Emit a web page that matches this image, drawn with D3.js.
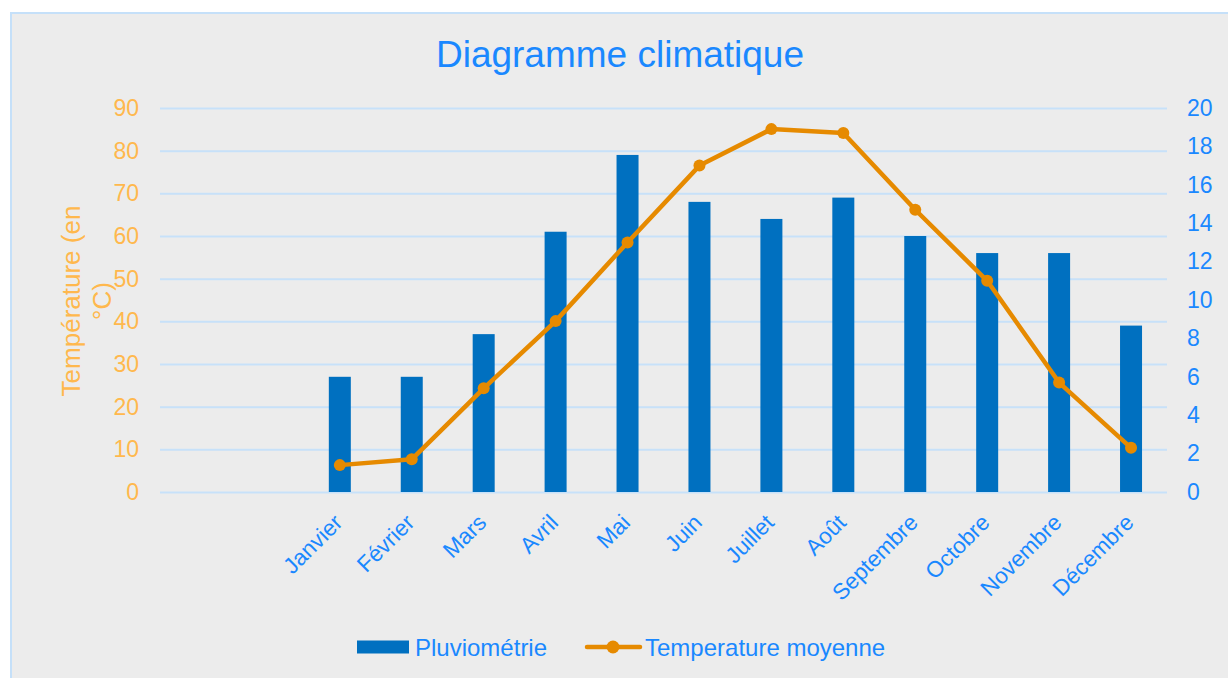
<!DOCTYPE html>
<html>
<head>
<meta charset="utf-8">
<script src="https://cdn.jsdelivr.net/npm/d3@7"></script>
<style>
  body { margin: 0; background: #fff; }
  text { font-family: "Liberation Sans", Arial, sans-serif; }
</style>
</head>
<body>
<div id="chart"></div>
<script>
// categories (two empty slots before Janvier, as in the original sheet)
var labels = ["", "", "Janvier", "Février", "Mars", "Avril", "Mai", "Juin", "Juillet",
              "Août", "Septembre", "Octobre", "Novembre", "Décembre"];
// rainfall (left axis)
var pluie = [null, null, 27, 27, 37, 61, 79, 68, 64, 69, 60, 56, 56, 39];
// mean temperature (right axis)
var temp = [null, null, 1.4, 1.7, 5.4, 8.9, 13.0, 17.0, 18.9, 18.7, 14.7, 11.0, 5.7, 2.3];
var leftTicks = [0, 10, 20, 30, 40, 50, 60, 70, 80, 90];
var rightTicks = [0, 2, 4, 6, 8, 10, 12, 14, 16, 18, 20];

var W = 1228, H = 678;
var plot = {left: 160, right: 1167, top: 108, bottom: 492};

var blue = "#1a88ff", orange = "#ffb84d", barColor = "#0070c0",
    lineColor = "#e68a00", gridColor = "#c7e1f9";

var svg = d3.select("#chart").append("svg")
    .attr("width", W)
    .attr("height", H);

// background + border
svg.append("rect")
    .attr("x", 11).attr("y", 13)
    .attr("width", W).attr("height", H)
    .attr("fill", "#ececec")
    .attr("stroke", "#c5e0f9")
    .attr("stroke-width", 2);

// scales
var idx = d3.range(labels.length);
var x = d3.scaleBand()
    .domain(idx)
    .range([plot.left, plot.right])
    .paddingInner(0.69)
    .paddingOuter(0.345);
var y = d3.scaleLinear().domain([0, 90]).range([plot.bottom, plot.top]);
var y2 = d3.scaleLinear().domain([0, 20]).range([plot.bottom, plot.top]);

// gridlines
svg.append("g")
    .attr("class", "grid")
    .attr("transform", "translate(" + plot.left + ",0)")
    .call(d3.axisLeft(y)
        .tickValues(leftTicks)
        .tickSize(-(plot.right - plot.left))
        .tickFormat(""))
    .call(function(g) { g.select(".domain").remove(); })
    .selectAll("line")
    .attr("stroke", gridColor)
    .attr("stroke-width", 2);

// left axis labels
svg.append("g")
    .attr("transform", "translate(" + (plot.left - 21) + ",0)")
    .call(d3.axisLeft(y).tickValues(leftTicks).tickSize(0).tickPadding(0))
    .call(function(g) { g.select(".domain").remove(); })
    .selectAll("text")
    .style("font-size", "23px")
    .attr("fill", orange);

// right axis labels
svg.append("g")
    .attr("transform", "translate(" + (plot.right + 20) + ",0)")
    .call(d3.axisRight(y2).tickValues(rightTicks).tickSize(0).tickPadding(0))
    .call(function(g) { g.select(".domain").remove(); })
    .selectAll("text")
    .style("font-size", "23px")
    .attr("fill", blue);

// bars
var bw = 22;
svg.append("g")
    .selectAll("rect")
    .data(idx.filter(function(i) { return pluie[i] != null; }))
    .enter()
    .append("rect")
    .attr("x", function(i) { return x(i) + x.bandwidth() / 2 - bw / 2; })
    .attr("y", function(i) { return y(pluie[i]); })
    .attr("width", bw)
    .attr("height", function(i) { return y(0) - y(pluie[i]); })
    .attr("fill", barColor);

// temperature line
var pts = idx.filter(function(i) { return temp[i] != null; });
var line = d3.line()
    .x(function(i) { return x(i) + x.bandwidth() / 2; })
    .y(function(i) { return y2(temp[i]); });

svg.append("path")
    .datum(pts)
    .attr("d", line)
    .attr("fill", "none")
    .attr("stroke", lineColor)
    .attr("stroke-width", 4.5)
    .attr("stroke-linejoin", "round");

svg.append("g")
    .selectAll("circle")
    .data(pts)
    .enter()
    .append("circle")
    .attr("cx", function(i) { return x(i) + x.bandwidth() / 2; })
    .attr("cy", function(i) { return y2(temp[i]); })
    .attr("r", 6)
    .attr("fill", lineColor);

// x labels
var xAxis = svg.append("g")
    .attr("transform", "translate(0," + plot.bottom + ")")
    .call(d3.axisBottom(x).tickSize(0).tickFormat(function(i) { return labels[i]; }));
xAxis.select(".domain").remove();
xAxis.selectAll("text")
    .style("font-size", "22.5px")
    .attr("fill", blue)
    .attr("text-anchor", "end")
    .attr("dy", 0)
    .attr("y", 0)
    .attr("transform", "translate(4,32) rotate(-45)");

// title
svg.append("text")
    .attr("x", 620)
    .attr("y", 67)
    .attr("text-anchor", "middle")
    .style("font-size", "37px")
    .attr("fill", blue)
    .text("Diagramme climatique");

// left axis title (two lines)
var yt = svg.append("text")
    .attr("transform", "translate(0,301) rotate(-90)")
    .attr("text-anchor", "middle")
    .style("font-size", "26px")
    .attr("fill", orange);
yt.append("tspan").attr("x", 0).attr("y", 80).text("Température (en");
yt.append("tspan").attr("x", 0).attr("y", 111).text("°C)");

// legend
var lg = svg.append("g").attr("transform", "translate(0,647)");
lg.append("rect")
    .attr("x", 357).attr("y", -6.5)
    .attr("width", 52).attr("height", 13)
    .attr("fill", barColor);
lg.append("text")
    .attr("x", 415).attr("y", 8.5)
    .style("font-size", "24px")
    .attr("fill", blue)
    .text("Pluviométrie");
lg.append("line")
    .attr("x1", 587).attr("x2", 640)
    .attr("y1", 0).attr("y2", 0)
    .attr("stroke", lineColor)
    .attr("stroke-width", 4.5)
    .attr("stroke-linecap", "round");
lg.append("circle")
    .attr("cx", 613).attr("cy", 0).attr("r", 6.5)
    .attr("fill", lineColor);
lg.append("text")
    .attr("x", 645).attr("y", 8.5)
    .style("font-size", "24px")
    .attr("fill", blue)
    .text("Temperature moyenne");
</script>
</body>
</html>
